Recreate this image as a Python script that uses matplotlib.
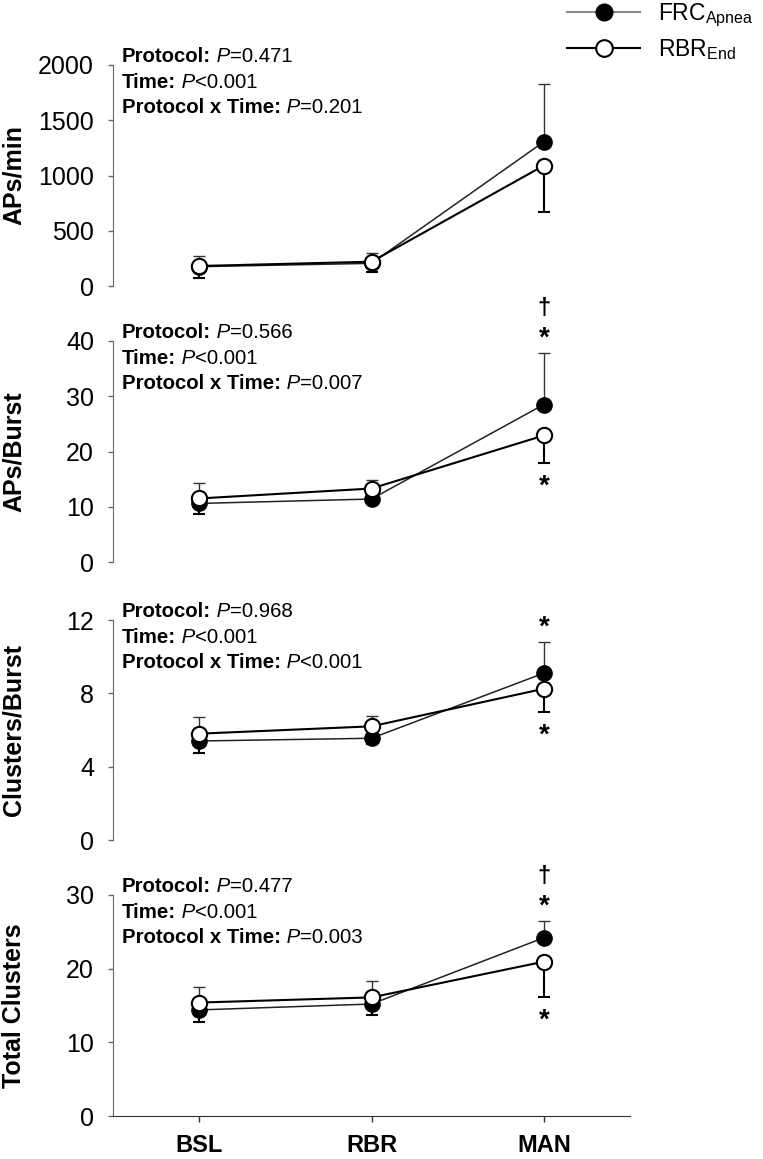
import matplotlib
matplotlib.use('Agg')
import matplotlib.pyplot as plt
from matplotlib.lines import Line2D
import numpy as np

plt.rcParams['font.family'] = 'Liberation Sans'
plt.rcParams['mathtext.fontset'] = 'custom'
plt.rcParams['mathtext.rm'] = 'Liberation Sans'
plt.rcParams['mathtext.it'] = 'Liberation Sans:italic'
plt.rcParams['mathtext.bf'] = 'Liberation Sans:bold'

# data
groups = ['BSL', 'RBR', 'MAN']
ylabels = ['APs/min', 'APs/Burst', 'Clusters/Burst', 'Total Clusters']
yticks = [[0, 500, 1000, 1500, 2000], [0, 10, 20, 30, 40], [0, 4, 8, 12], [0, 10, 20, 30]]

frc_mean = [[175, 205, 1305], [10.6, 11.4, 28.5], [5.4, 5.55, 9.1], [14.4, 15.2, 24.2]]
frc_err = [[96, 93, 523], [3.7, 3.5, 9.4], [1.33, 1.23, 1.72], [3.1, 3.1, 2.3]]
rbr_mean = [[181, 220, 1090], [11.5, 13.3, 22.9], [5.8, 6.2, 8.25], [15.4, 16.1, 20.95]]
rbr_err = [[109, 93, 420], [2.9, 1.5, 4.9], [1.07, 0.98, 1.28], [2.7, 2.35, 4.85]]

stat_names = ['Protocol:', 'Time:', 'Protocol x Time:']
p_protocol = ['=0.471', '=0.566', '=0.968', '=0.477']
p_time = ['<0.001', '<0.001', '<0.001', '<0.001']
p_inter = ['=0.201', '=0.007', '<0.001', '=0.003']

sig_above = [[], ['*', '\u2020'], ['*'], ['*', '\u2020']]
sig_below = [[], ['*'], ['*'], ['*']]

# layout in pixels (763 x 1159)
W, H = 763, 1159
ax_left, ax_w = 113, 517
tops = [65, 341, 620, 895]
zeros = [286, 562, 840, 1116]

fig = plt.figure(figsize=(W / 100, H / 100), dpi=100)
x = np.arange(len(groups))


def stat_line(ax, yoff, name, p):
    t1 = ax.annotate(name, xy=(0.017, 1), xycoords='axes fraction',
                     xytext=(0, yoff), textcoords='offset points',
                     ha='left', va='center', fontsize=14.7, fontweight='bold')
    t2 = ax.annotate(' P', xy=(1, 0), xycoords=t1, ha='left', va='bottom',
                     fontsize=14.7, fontstyle='italic')
    ax.annotate(p, xy=(1, 0), xycoords=t2, ha='left', va='bottom', fontsize=14.7)


for i in range(4):
    ax = fig.add_axes([ax_left / W, 1 - zeros[i] / H, ax_w / W, (zeros[i] - tops[i]) / H])
    f = np.array(frc_mean[i])
    r = np.array(rbr_mean[i])
    fe = np.array(frc_err[i])
    re = np.array(rbr_err[i])

    ax.errorbar(x, f, yerr=[np.zeros(3), fe], fmt='none', ecolor='#333333',
                elinewidth=1.0, capsize=4.3, capthick=1.0, zorder=2)
    ax.errorbar(x, r, yerr=[re, np.zeros(3)], fmt='none', ecolor='black',
                elinewidth=1.5, capsize=4.3, capthick=1.5, zorder=2)
    ax.plot(x, f, color='#222222', lw=1.1, marker='o', ms=11,
            mfc='black', mec='black', zorder=3)
    ax.plot(x, r, color='black', lw=1.5, marker='o', ms=11,
            mfc='white', mec='black', mew=1.5, zorder=4)

    ax.set_xlim(-0.5, 2.5)
    ax.set_ylim(yticks[i][0], yticks[i][-1])
    ax.set_yticks(yticks[i])
    ax.spines['top'].set_visible(False)
    ax.spines['right'].set_visible(False)
    ax.spines['left'].set_color('#666666')
    ax.tick_params(axis='y', length=3.6, width=1, color='#666666', pad=10,
                   labelsize=18)
    if i < 3:
        ax.spines['bottom'].set_visible(False)
        ax.set_xticks([])
    else:
        ax.spines['bottom'].set_color('#333333')
        ax.set_xticks(x)
        ax.set_xticklabels(groups, fontsize=17, fontweight='bold')
        ax.tick_params(axis='x', length=4.3, width=1, color='#333333', pad=9)

    ax.text(-0.192, 0.5, ylabels[i], transform=ax.transAxes, rotation=90,
            ha='center', va='center', fontsize=18, fontweight='bold')

    pvals = [p_protocol[i], p_time[i], p_inter[i]]
    for k in range(3):
        stat_line(ax, 6 - 18.4 * k, stat_names[k], pvals[k])

    for k, m in enumerate(sig_above[i]):
        ax.annotate(m, xy=(2, f[2] + fe[2]), xytext=(0, 10 + 22 * k),
                    textcoords='offset points', ha='center', va='center',
                    fontsize=20 if m == '*' else 17, fontweight='bold',
                    annotation_clip=False)
    for m in sig_below[i]:
        ax.annotate(m, xy=(2, r[2] - re[2]), xytext=(0, -17),
                    textcoords='offset points', ha='center', va='center',
                    fontsize=20, fontweight='bold', annotation_clip=False)

handles = [Line2D([], [], color='#888888', lw=1.5, marker='o', ms=12,
                  mfc='black', mec='black'),
           Line2D([], [], color='black', lw=1.5, marker='o', ms=12,
                  mfc='white', mec='black', mew=1.5)]
fig.legend(handles, [r'FRC$_{\mathregular{Apnea}}$', r'RBR$_{\mathregular{End}}$'],
           loc='center left', bbox_to_anchor=(567 / W, 1 - 32 / H), frameon=False,
           fontsize=16.5, handlelength=3.2, handletextpad=0.75, labelspacing=0.35,
           borderpad=0, borderaxespad=0)

fig.savefig('out.png', dpi=100)
